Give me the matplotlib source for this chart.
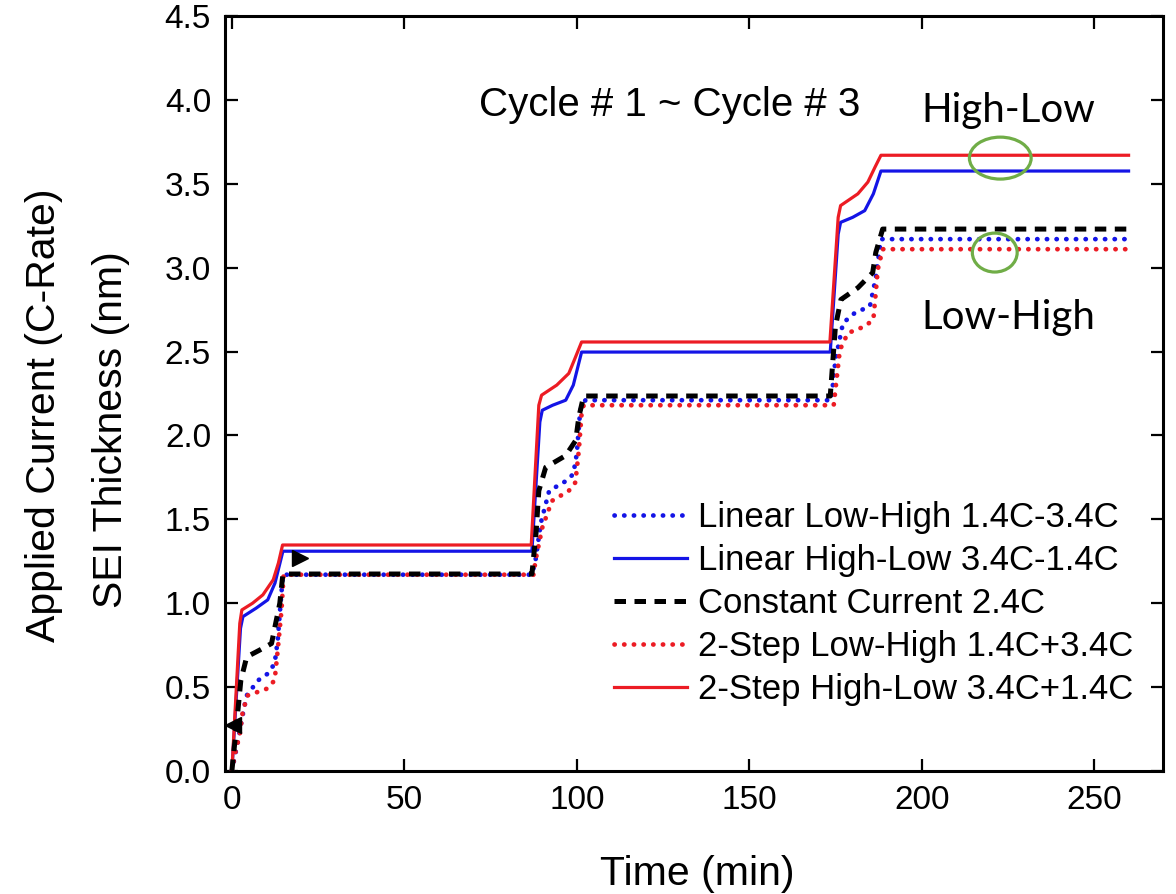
import matplotlib
matplotlib.use("Agg")
import matplotlib.pyplot as plt
from matplotlib.patches import Ellipse

# ---- data: SEI thickness (nm) vs time (min) for five charging protocols ----
t_lin_lh = [0, 1.5, 3.2, 4.3, 7.6, 10.4, 12.4, 13.3, 13.9, 14.8,
            87.0, 88.0, 89.6, 92.0, 97.0, 99.0, 100.0, 101.0, 102.5,
            173.8, 175.0, 177.2, 180.6, 185.0, 186.7, 188.2, 260]
y_lin_lh = [0, 0.15, 0.34, 0.45, 0.54, 0.58, 0.64, 0.78, 0.94, 1.17,
            1.17, 1.25, 1.48, 1.67, 1.73, 1.77, 1.89, 2.15, 2.21,
            2.21, 2.45, 2.67, 2.73, 2.77, 2.94, 3.17, 3.17]

t_lin_hl = [0, 2.5, 3.2, 7.0, 10.4, 12.5, 14.8,
            87.0, 89.3, 90.0, 93.0, 96.8, 99.0, 101.4,
            173.5, 175.8, 176.5, 180.0, 183.5, 186.0, 188.2, 260]
y_lin_hl = [0, 0.85, 0.92, 0.97, 1.02, 1.12, 1.31,
            1.31, 2.08, 2.15, 2.18, 2.21, 2.30, 2.497,
            2.497, 3.20, 3.27, 3.30, 3.34, 3.44, 3.576, 3.576]

t_cc = [0, 1.0, 2.6, 4.3, 8.0, 11.5, 12.7, 13.9, 14.8,
        87.0, 88.2, 89.0, 91.0, 96.8, 99.7, 100.6, 102.0,
        173.5, 175.0, 176.6, 181.5, 185.8, 186.7, 188.7, 260]
y_cc = [0, 0.2, 0.54, 0.68, 0.72, 0.76, 0.88, 1.0, 1.174,
        1.174, 1.42, 1.67, 1.81, 1.88, 1.97, 2.11, 2.235,
        2.235, 2.65, 2.81, 2.88, 2.97, 3.09, 3.23, 3.23]

t_2s_lh = [0, 0.9, 2.3, 3.2, 4.6, 10.1, 12.4, 13.3, 14.4, 15.0,
           87.5, 88.0, 90.0, 92.8, 97.7, 99.6, 100.6, 101.4, 102.0,
           174.5, 176.3, 178.6, 183.5, 186.0, 187.3, 188.7, 260]
y_2s_lh = [0, 0.10, 0.22, 0.36, 0.45, 0.49, 0.54, 0.72, 0.96, 1.17,
           1.17, 1.25, 1.45, 1.61, 1.67, 1.72, 1.91, 2.13, 2.18,
           2.18, 2.51, 2.61, 2.65, 2.69, 2.99, 3.11, 3.11]

t_2s_hl = [0, 2.3, 2.9, 6.0, 9.0, 12.0, 13.5, 14.7,
           86.8, 89.0, 89.8, 94.2, 97.7, 99.5, 101.4,
           173.4, 175.8, 176.5, 181.5, 184.4, 186.5, 188.2, 260]
y_2s_hl = [0, 0.88, 0.96, 1.00, 1.05, 1.14, 1.24, 1.347,
           1.347, 2.18, 2.24, 2.30, 2.37, 2.46, 2.557,
           2.557, 3.30, 3.37, 3.44, 3.51, 3.60, 3.67, 3.67]

labels = ["Linear Low-High 1.4C-3.4C",
          "Linear High-Low 3.4C-1.4C",
          "Constant Current 2.4C",
          "2-Step Low-High 1.4C+3.4C",
          "2-Step High-Low 3.4C+1.4C"]

x_ticks = [0, 50, 100, 150, 200, 250]
y_ticks = [0.0, 0.5, 1.0, 1.5, 2.0, 2.5, 3.0, 3.5, 4.0, 4.5]

BLUE = "#1414e6"
RED = "#ec1c24"
GREEN = "#70ad47"

plt.rcParams["font.family"] = ["Liberation Sans", "DejaVu Sans"]

fig = plt.figure(figsize=(11.76, 8.94), dpi=100)
ax = fig.add_axes([0.1913, 0.1376, 0.7977, 0.8445])

dot = (0, (0.05, 2.0))
ax.plot(t_lin_lh, y_lin_lh, color=BLUE, lw=3.4, ls=dot, dash_capstyle="round",
        label=labels[0], zorder=3)
ax.plot(t_lin_hl, y_lin_hl, color=BLUE, lw=2.3, ls="-", label=labels[1], zorder=3)
ax.plot(t_cc, y_cc, color="black", lw=3.6, ls=(0, (2.3, 1.7)), label=labels[2], zorder=4)
ax.plot(t_2s_lh, y_2s_lh, color=RED, lw=3.4, ls=dot, dash_capstyle="round",
        label=labels[3], zorder=3)
ax.plot(t_2s_hl, y_2s_hl, color=RED, lw=2.3, ls="-", label=labels[4], zorder=3)

# axis-direction arrow heads
ax.plot([0.2], [0.274], marker="<", color="black", ms=11, zorder=5, clip_on=False)
ax.plot([19.7], [1.27], marker=">", color="black", ms=11, zorder=5)

ax.set_xlim(-2, 270)
ax.set_ylim(0, 4.5)
ax.set_xticks(x_ticks)
ax.set_yticks(y_ticks)
ax.set_yticklabels([f"{v:.1f}" for v in y_ticks])
ax.tick_params(direction="in", length=9, width=1.6, labelsize=24,
               top=True, right=True, pad=10)
for sp in ax.spines.values():
    sp.set_linewidth(2.2)

fig.text(0.593, 0.010, "Time (min)", fontsize=29.5, ha="center", va="baseline")
fig.text(0.0468, 0.535, "Applied Current (C-Rate)", fontsize=29.5, rotation=90,
         rotation_mode="anchor", ha="center", va="baseline")
fig.text(0.1037, 0.5196, "SEI Thickness (nm)", fontsize=29.5, rotation=90,
         rotation_mode="anchor", ha="center", va="baseline")

ax.text(126.9, 3.97, "Cycle # 1 ~ Cycle # 3", fontsize=29,
        ha="center", va="center")
ax.text(0.835, 0.875, "High-Low", fontsize=29, family=["Lato", "DejaVu Sans"],
        ha="center", va="center", transform=ax.transAxes)
ax.text(0.835, 0.60, "Low-High", fontsize=29, family=["Lato", "DejaVu Sans"],
        ha="center", va="center", transform=ax.transAxes)

ax.add_patch(Ellipse((222.8, 3.653), 17.9, 0.25, fill=False, ec=GREEN, lw=2.3, zorder=6))
ax.add_patch(Ellipse((221.2, 3.09), 13.0, 0.232, fill=False, ec=GREEN, lw=2.3, zorder=6))

ax.legend(loc="upper left", bbox_to_anchor=(0.415, 0.3576), frameon=False,
          fontsize=25, handlelength=2.1, handletextpad=0.32,
          labelspacing=0.29, borderpad=0, borderaxespad=0)

fig.savefig("out.png", dpi=100)
